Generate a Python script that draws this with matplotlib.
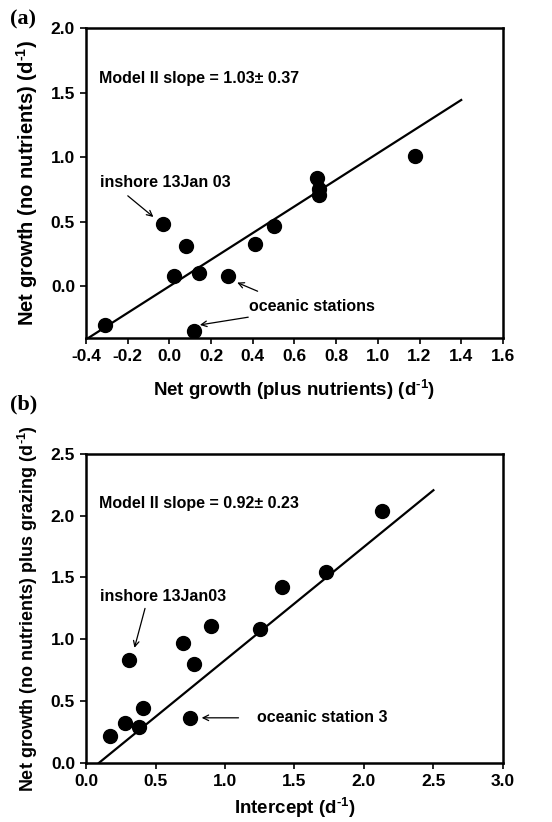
import numpy as np
import matplotlib
matplotlib.use("Agg")
import matplotlib.pyplot as plt

plt.rcParams['font.family'] = ['Liberation Sans', 'DejaVu Sans']
plt.rcParams['font.weight'] = 'bold'
plt.rcParams['axes.labelweight'] = 'bold'
plt.rcParams['axes.unicode_minus'] = False
plt.rcParams['mathtext.fontset'] = 'custom'
plt.rcParams['mathtext.rm'] = 'Liberation Sans:bold'
plt.rcParams['mathtext.bf'] = 'Liberation Sans:bold'
plt.rcParams['mathtext.default'] = 'rm'

# Panel (a): net growth plus nutrients vs no nutrients
a_x = [-0.31, 0.12, -0.03, 0.08, 0.02, 0.14, 0.28, 0.41, 0.50, 0.71, 0.72, 0.72, 1.18]
a_y = [-0.30, -0.35, 0.48, 0.31, 0.08, 0.10, 0.08, 0.33, 0.47, 0.84, 0.71, 0.75, 1.01]
a_slope, a_icpt = 1.03, 0.0
a_line_x = [-0.39, 1.40]
a_xticks = [-0.4, -0.2, 0.0, 0.2, 0.4, 0.6, 0.8, 1.0, 1.2, 1.4, 1.6]
a_yticks = [0.0, 0.5, 1.0, 1.5, 2.0]

# Panel (b): intercept vs net growth plus grazing
b_x = [0.17, 0.28, 0.38, 0.41, 0.31, 0.70, 0.78, 0.90, 0.75, 1.25, 1.41, 1.73, 2.13]
b_y = [0.22, 0.32, 0.29, 0.44, 0.83, 0.97, 0.80, 1.11, 0.36, 1.08, 1.42, 1.54, 2.04]
b_slope, b_x0 = 0.916, 0.093
b_line_x = [0.093, 2.50]
b_xticks = [0.0, 0.5, 1.0, 1.5, 2.0, 2.5, 3.0]
b_yticks = [0.0, 0.5, 1.0, 1.5, 2.0, 2.5]

D1 = r"(d$^{\text{-}1}$)"

fig = plt.figure(figsize=(5.52, 8.22), dpi=100)
ax1 = fig.add_axes([0.156, 0.589, 0.755, 0.377])
ax2 = fig.add_axes([0.156, 0.072, 0.755, 0.376])

arrow = dict(arrowstyle='->', lw=0.9, color='black', shrinkA=0, shrinkB=0)

def style(ax, xt, yt):
    ax.set_xticks(xt)
    ax.set_xticklabels([f"{v:.1f}" for v in xt], fontweight='bold', fontsize=12.5)
    ax.set_yticks(yt)
    ax.set_yticklabels([f"{v:.1f}" for v in yt], fontweight='bold', fontsize=12.5)
    for s in ax.spines.values():
        s.set_linewidth(1.8)
    ax.tick_params(direction='out', length=4, width=1.2, pad=4)

# (a)
lx = np.array(a_line_x)
ax1.plot(lx, a_slope * lx + a_icpt, 'k-', lw=1.6)
ax1.plot(a_x, a_y, 'ko', ms=10)
ax1.set_xlim(-0.4, 1.6)
ax1.set_ylim(-0.4, 2.0)
style(ax1, a_xticks, a_yticks)
ax1.set_xlabel("Net growth (plus nutrients) " + D1, fontsize=13.5, labelpad=10)
ax1.set_ylabel("Net growth (no nutrients) " + D1, fontsize=14.5, labelpad=8)
ax1.text(-0.338, 1.606, "Model II slope = 1.03\u00b1 0.37", fontsize=11.5, va='center')
ax1.text(-0.333, 0.80, "inshore 13Jan 03", fontsize=11.5, va='center')
ax1.annotate("", xy=(-0.077, 0.536), xytext=(-0.20, 0.70), arrowprops=arrow)
ax1.text(0.383, -0.158, "oceanic stations", fontsize=11.5, va='center')
ax1.annotate("", xy=(0.325, 0.028), xytext=(0.423, -0.039), arrowprops=arrow)
ax1.annotate("", xy=(0.146, -0.30), xytext=(0.378, -0.24), arrowprops=arrow)
fig.text(0.018, 0.976, "(a)", family='Liberation Serif', fontsize=16, fontweight='bold', va='center')

# (b)
lx = np.array(b_line_x)
ax2.plot(lx, b_slope * (lx - b_x0), 'k-', lw=1.6)
ax2.plot(b_x, b_y, 'ko', ms=10)
ax2.set_xlim(0, 3.0)
ax2.set_ylim(0, 2.5)
style(ax2, b_xticks, b_yticks)
ax2.set_xlabel("Intercept " + D1, fontsize=13.5, labelpad=5)
ax2.set_ylabel("Net growth (no nutrients) plus grazing " + D1, fontsize=13, labelpad=8)
ax2.text(0.093, 2.095, "Model II slope = 0.92\u00b1 0.23", fontsize=11.5, va='center')
ax2.text(0.10, 1.348, "inshore 13Jan03", fontsize=11.5, va='center')
ax2.annotate("", xy=(0.348, 0.93), xytext=(0.424, 1.249), arrowprops=arrow)
ax2.text(1.232, 0.364, "oceanic station 3", fontsize=11.5, va='center')
ax2.annotate("", xy=(0.832, 0.364), xytext=(1.097, 0.364), arrowprops=arrow)
fig.text(0.018, 0.508, "(b)", family='Liberation Serif', fontsize=16, fontweight='bold', va='center')

fig.savefig("out.png", dpi=100)
